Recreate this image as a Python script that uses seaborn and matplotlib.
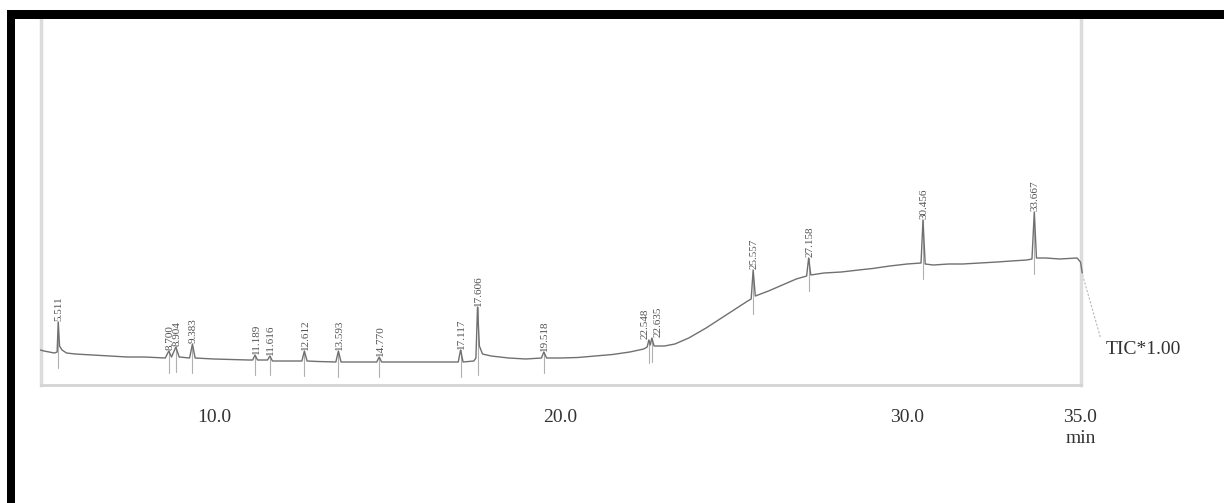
import numpy as np
import pandas as pd
import matplotlib
matplotlib.use("Agg")
import matplotlib.pyplot as plt
from matplotlib.patches import Rectangle
import seaborn as sns

# ---- data (retention time in min, intensity in arbitrary units) ----
trace_time = [5.0, 5.1, 5.25, 5.4, 5.48, 5.511, 5.55, 5.62, 5.75, 6.0, 6.5, 7.0, 7.5, 8.0,
              8.6, 8.70, 8.78, 8.904, 9.0, 9.3, 9.383, 9.46, 10.0, 10.5, 11.0, 11.12, 11.189,
              11.26, 11.55, 11.616, 11.69, 12.0, 12.54, 12.612, 12.69, 13.0, 13.52, 13.593,
              13.67, 14.0, 14.70, 14.77, 14.84, 15.5, 16.5, 17.05, 17.117, 17.19, 17.5, 17.56,
              17.606, 17.66, 17.75, 18.0, 18.5, 19.0, 19.45, 19.518, 19.6, 20.0, 20.5, 21.0,
              21.5, 22.0, 22.4, 22.5, 22.548, 22.59, 22.635, 22.7, 23.0, 23.3, 23.7, 24.2, 24.6,
              25.0, 25.4, 25.50, 25.557, 25.62, 26.0, 26.4, 26.8, 27.1, 27.158, 27.22, 27.6,
              28.1, 28.6, 29.0, 29.5, 30.0, 30.40, 30.456, 30.52, 30.75, 31.2, 31.6, 32.1, 32.6,
              33.0, 33.45, 33.6, 33.667, 33.73, 34.0, 34.4, 34.9, 35.0, 35.05]
trace_int = [35, 34, 33, 32, 33, 63, 39, 35, 32, 31, 30, 29, 28, 28,
             27, 34, 28, 38, 28, 27, 41, 27, 26, 25.5, 25, 25, 30,
             25, 25, 29, 24, 24, 24, 34, 24, 23.5, 23, 34,
             23, 23, 23, 28, 23, 23, 23, 23, 35, 23, 24, 27,
             78, 39, 31, 29, 27, 26, 27, 33, 27, 27, 27.5, 29,
             30.5, 33, 36, 38, 45, 40, 47, 39, 39, 41, 47, 57, 66,
             75, 84, 86, 115, 89, 94, 100, 106, 109, 127, 110, 112,
             113, 115, 116.5, 119, 121, 122, 165, 121, 120, 121, 121, 122, 123,
             124, 125, 126, 173, 127, 127, 126, 127, 123, 112]

peak_labels = ["5.511", "8.700", "8.904", "9.383", "11.189", "11.616", "12.612", "13.593",
               "14.770", "17.117", "17.606", "19.518", "22.548", "22.635", "25.557",
               "27.158", "30.456", "33.667"]
peak_rt = [5.511, 8.700, 8.904, 9.383, 11.189, 11.616, 12.612, 13.593, 14.770, 17.117,
           17.606, 19.518, 22.548, 22.635, 25.557, 27.158, 30.456, 33.667]
peak_apex = [63, 34, 38, 41, 30, 29, 34, 34, 28, 35, 78, 33, 45, 47, 115, 127, 165, 173]
peak_base = [32, 27, 28, 27, 25, 25, 24, 23, 23, 23, 25, 27, 37, 38, 86, 109, 121, 126]

major_ticks = [10, 20, 30, 35]
major_labels = ["10.0", "20.0", "30.0", "35.0"]
minor_ticks = list(range(5, 36))

# ---- figure ----
sns.set_theme(style="white")
plt.rcParams["font.family"] = ["Liberation Serif", "DejaVu Serif"]

W, H = 1224, 503
fig = plt.figure(figsize=(W / 100, H / 100), dpi=100)
ax = fig.add_axes([40.5 / W, (H - 385) / H, (1080.5 - 40.5) / W, (385 - 18) / H])

df = pd.DataFrame({"time": trace_time, "intensity": trace_int})
sns.lineplot(data=df, x="time", y="intensity", ax=ax, color="#707070", lw=1.0,
             sort=False, estimator=None, clip_on=False, zorder=3)

# label x-shift (in min) so that the two close labels near 22.6 sit side by side
label_shift = {"22.548": -0.13, "22.635": 0.15}

# peak marker lines and labels
for lab, rt, apex, base in zip(peak_labels, peak_rt, peak_apex, peak_base):
    ax.plot([rt, rt], [base - 15, apex], color="#b0b0b0", lw=0.8, zorder=2)
    ax.text(rt + 0.03 + label_shift.get(lab, 0.0), apex + 1, lab, rotation=90,
            ha="center", va="bottom", fontsize=8, color="#505050", zorder=4)

ax.set_xlim(5, 35)
ax.set_ylim(0, 367)
ax.set_xlabel("")
ax.set_ylabel("")
ax.set_yticks([])
ax.set_xticks(major_ticks)
ax.set_xticklabels(major_labels)
ax.set_xticks(minor_ticks, minor=True)
ax.tick_params(axis="x", which="major", direction="out", length=10, width=1.0,
               color="#c0c0c0", labelsize=14, labelcolor="#333333", pad=7)
ax.tick_params(axis="x", which="minor", direction="out", length=5, width=1.0,
               color="#c8c8c8")

for side in ["left", "right"]:
    ax.spines[side].set_color("#dcdcdc")
    ax.spines[side].set_linewidth(2.5)
ax.spines["bottom"].set_color("#d4d4d4")
ax.spines["bottom"].set_linewidth(2.0)
ax.spines["top"].set_visible(False)

# "min" unit label under the last tick
ax.annotate("min", xy=(35, -0.145), xycoords=("data", "axes fraction"),
            ha="center", va="center", fontsize=14, color="#333333", annotation_clip=False)

# TIC leader line and label
ax.plot([35.06, 35.58], [110, 47], color="#b8b8b8", lw=0.8, ls=(0, (2, 1.5)), clip_on=False)
ax.text(35.72, 35, "TIC*1.00", ha="left", va="center", fontsize=14, color="#333333",
        clip_on=False)

# thick black frame (left and top edges)
fig.add_artist(Rectangle((7 / W, 0), 7.5 / W, (H - 10) / H, transform=fig.transFigure,
                         facecolor="black", edgecolor="none"))
fig.add_artist(Rectangle((7 / W, (H - 18.5) / H), 1 - 7 / W, 8.5 / H,
                         transform=fig.transFigure, facecolor="black", edgecolor="none"))

fig.savefig("out.png", dpi=100, facecolor="white")
